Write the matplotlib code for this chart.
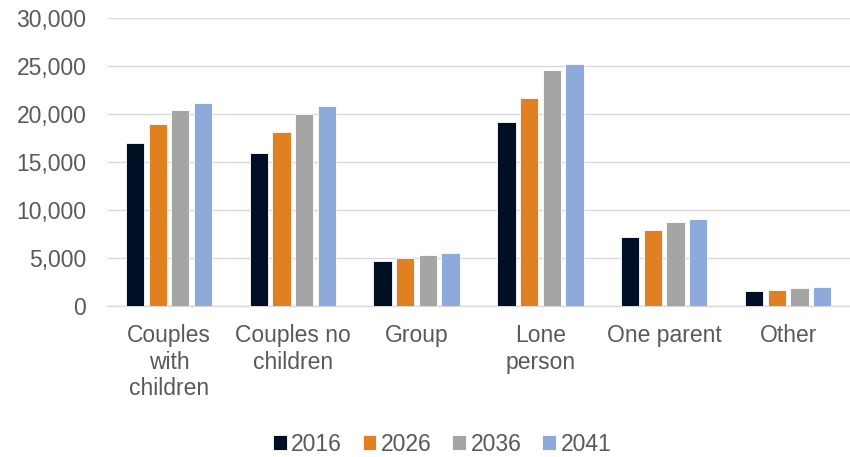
import matplotlib.pyplot as plt
import numpy as np

plt.rcParams['font.family'] = ['Liberation Sans', 'DejaVu Sans']

categories = ['Couples\nwith\nchildren', 'Couples no\nchildren', 'Group',
              'Lone\nperson', 'One parent', 'Other']
years = ['2016', '2026', '2036', '2041']
v2016 = [17000, 15900, 4650, 19200, 7200, 1550]
v2026 = [19000, 18100, 5050, 21700, 7950, 1700]
v2036 = [20400, 20000, 5350, 24550, 8750, 1850]
v2041 = [21100, 20800, 5550, 25200, 9050, 1950]
colors = ['#000f24', '#e08020', '#a5a5a5', '#8eaadb']

series = [v2016, v2026, v2036, v2041]

fig = plt.figure(figsize=(8.5, 4.57), dpi=100)
ax = fig.add_axes([0.126, 0.330, 0.874, 0.631])

x = np.arange(len(categories))
pitch = 0.183
width = 0.148
for i, vals in enumerate(series):
    ax.bar(x + (i - 1.5) * pitch, vals, width, color=colors[i], label=years[i],
           edgecolor='white', linewidth=0.6, zorder=3)

ax.set_xlim(-0.5, len(categories) - 0.5)
ax.set_ylim(0, 30000)
ax.set_yticks(range(0, 30001, 5000))
ax.set_yticklabels([f'{v:,}' for v in range(0, 30001, 5000)])
ax.set_xticks(x)
ax.set_xticklabels(categories, linespacing=1.2)
ax.tick_params(axis='both', length=0, labelsize=16.5, colors='#595959')
ax.tick_params(axis='x', pad=13)
ax.tick_params(axis='y', pad=15)
ax.grid(axis='y', color='#d9d9d9', linewidth=1.0, zorder=0)
for s in ['left', 'right', 'top']:
    ax.spines[s].set_visible(False)
ax.spines['bottom'].set_color('#d9d9d9')
ax.spines['bottom'].set_linewidth(1.0)

fig.legend(loc='center', bbox_to_anchor=(0.52, 0.028), ncol=4, frameon=False,
           fontsize=16.5, handlelength=0.6, handleheight=0.6, handletextpad=0.2,
           columnspacing=0.9, labelcolor='#595959')

fig.savefig('out.png', dpi=100)
